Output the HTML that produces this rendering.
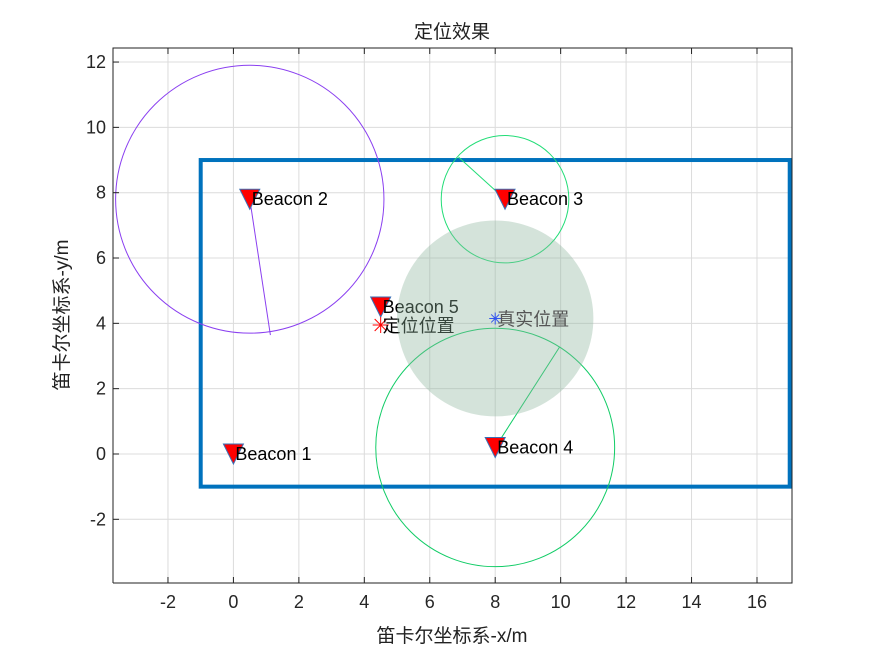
<!DOCTYPE html>
<html><head><meta charset="utf-8"><style>
body{margin:0;background:#fff}
text{font-family:"Liberation Sans","Noto Sans CJK SC",sans-serif}
</style></head><body>
<svg id="chart" width="875" height="656" xmlns="http://www.w3.org/2000/svg">
<g id="grid"></g>
<g id="marks"></g>
<g id="axes"></g>
<text x="452" y="38" font-size="19" text-anchor="middle" fill="#222">定位效果</text>
<text x="452" y="642" font-size="19" text-anchor="middle" fill="#222">笛卡尔坐标系-x/m</text>
<text transform="translate(68,315) rotate(-90)" font-size="19" text-anchor="middle" fill="#222">笛卡尔坐标系-y/m</text>
</svg>
<script>
const xTicks=[-2,0,2,4,6,8,10,12,14,16];
const yTicks=[-2,0,2,4,6,8,10,12];
const beaconNames=["Beacon 1","Beacon 2","Beacon 3","Beacon 4","Beacon 5"];
const beaconX=[0,0.5,8.3,8,4.5];
const beaconY=[0,7.8,7.8,0.2,4.5];
const rangeCircleBeacon=[1,2,3];
const rangeRadius=[4.1,1.95,3.65];
const rangeEndX=[1.13,6.88,9.97];
const rangeEndY=[3.64,9.09,3.28];
const rangeColors=["#8a3ff0","#22dd77","#11cc66"];
const truePos=[8,4.15];
const estPos=[4.5,3.95];
const errRadius=3.0;
const areaX=[-1,17];
const areaY=[-1,9];
const xMin=-3.68,xMax=17.07,yMin=-3.95,yMax=12.43;
const L=113,R=792,T=48,B=583;
const sx=v=>L+(v-xMin)/(xMax-xMin)*(R-L);
const sy=v=>B-(v-yMin)/(yMax-yMin)*(B-T);
const ns="http://www.w3.org/2000/svg";
function mk(parent,tag,attrs){const e=document.createElementNS(ns,tag);for(const k in attrs)e.setAttribute(k,attrs[k]);document.getElementById(parent).appendChild(e);return e;}
xTicks.forEach(t=>{
 const g=mk('grid','line',{x1:sx(t),x2:sx(t),y1:T,y2:B,stroke:'#dcdcdc'});
 
 
 const tk=mk('axes','line',{x1:sx(t),x2:sx(t),y1:B,y2:B-6,stroke:'#222'});
 
 
 const tk2=mk('axes','line',{x1:sx(t),x2:sx(t),y1:T,y2:T+6,stroke:'#222'});
 
 
 const l=mk('axes','text',{x:sx(t),y:B+25,'font-size':18,'text-anchor':'middle',fill:'#262626'});l.textContent=t;
 
 
});
yTicks.forEach(t=>{
 const g=mk('grid','line',{x1:L,x2:R,y1:sy(t),y2:sy(t),stroke:'#dcdcdc'});
 
 
 const tk=mk('axes','line',{x1:L,x2:L+6,y1:sy(t),y2:sy(t),stroke:'#222'});
 
 
 const l=mk('axes','text',{x:L-7,y:sy(t)+6,'font-size':18,'text-anchor':'end',fill:'#262626'});l.textContent=t;
 
 
});
const ax=mk('axes','path',{d:`M${L},${B}V${T}H${R}V${B}H${L}`,fill:'none',stroke:'#222'});


const rect=mk('marks','rect',{x:sx(areaX[0]),y:sy(areaY[1]),width:sx(areaX[1])-sx(areaX[0]),height:sy(areaY[0])-sy(areaY[1]),fill:'none',stroke:'#0072bd','stroke-width':4});


rangeCircleBeacon.forEach((bi,i)=>{
 const cx=beaconX[bi],cy=beaconY[bi];
 const c=mk('marks','ellipse',{cx:sx(cx),cy:sy(cy),rx:sx(cx+rangeRadius[i])-sx(cx),ry:sy(cy)-sy(cy+rangeRadius[i]),fill:'none',stroke:rangeColors[i],'stroke-width':1});
 
 
 const ln=mk('marks','line',{x1:sx(cx),y1:sy(cy),x2:sx(rangeEndX[i]),y2:sy(rangeEndY[i]),stroke:rangeColors[i]});
 
 
});
beaconNames.forEach((n,i)=>{
 const x=sx(beaconX[i]),y=sy(beaconY[i]);
 const tr=mk('marks','path',{d:`M${x-10},${y-10}H${x+10}L${x},${y+10}Z`,fill:'#ff0000',stroke:'#3a6fb5','stroke-width':1});
 
 
 const t=mk('marks','text',{x:x+2,y:y+6,'font-size':18,fill:'#000'});t.textContent=n;
 
 
});
{const x=sx(estPos[0]),y=sy(estPos[1]);
 const s=mk('marks','path',{d:`M${x-8},${y}H${x+8}M${x},${y-8}V${y+8}M${x-6},${y-6}L${x+6},${y+6}M${x-6},${y+6}L${x+6},${y-6}`,stroke:'#ff0000','stroke-width':1});
 
 
 const t=mk('marks','text',{x:x+2,y:y+7,'font-size':18,fill:'#000'});t.textContent='定位位置';
 
 }
{const c=mk('marks','ellipse',{cx:sx(truePos[0]),cy:sy(truePos[1]),rx:sx(truePos[0]+errRadius)-sx(truePos[0]),ry:sy(truePos[1])-sy(truePos[1]+errRadius),fill:'#8fb59f','fill-opacity':0.38});
 
 }
{const x=sx(truePos[0]),y=sy(truePos[1]);
 const s=mk('marks','path',{d:`M${x-6},${y}H${x+6}M${x},${y-6}V${y+6}M${x-4},${y-4}L${x+4},${y+4}M${x-4},${y+4}L${x+4},${y-4}`,stroke:'#3355ee','stroke-width':1});
 
 
 const t=mk('marks','text',{x:x+2,y:y+7,'font-size':18,fill:'#555'});t.textContent='真实位置';
 
 }
</script>
</body></html>
